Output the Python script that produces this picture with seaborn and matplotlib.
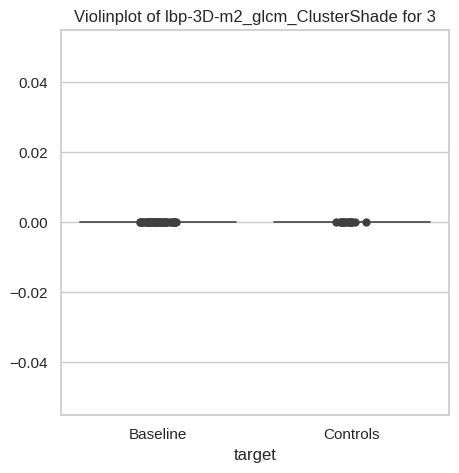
import numpy as np
import pandas as pd
import matplotlib
matplotlib.use('Agg')
import matplotlib.pyplot as plt
import seaborn as sns

sns.set_theme(style='whitegrid')
plt.rcParams['font.family'] = ['Liberation Sans', 'DejaVu Sans']

# values: every sample sits at 0.0
baseline_vals = [0.0, 0.0, 0.0, 0.0, 0.0, 0.0, 0.0, 0.0, 0.0, 0.0,
                 0.0, 0.0, 0.0, 0.0, 0.0, 0.0, 0.0, 0.0, 0.0, 0.0,
                 0.0, 0.0, 0.0, 0.0, 0.0, 0.0, 0.0, 0.0, 0.0, 0.0,
                 0.0, 0.0, 0.0, 0.0, 0.0, 0.0, 0.0, 0.0, 0.0, 0.0]
controls_vals = [0.0, 0.0, 0.0, 0.0, 0.0, 0.0, 0.0, 0.0, 0.0, 0.0,
                 0.0, 0.0, 0.0, 0.0, 0.0, 0.0]
groups = ['Baseline', 'Controls']
feature = 'lbp-3D-m2_glcm_ClusterShade'

df = pd.DataFrame({
    'target': [groups[0]] * len(baseline_vals) + [groups[1]] * len(controls_vals),
    feature: baseline_vals + controls_vals,
})

np.random.seed(3)
fig, ax = plt.subplots(figsize=(4.59, 4.73), dpi=100)
fig.subplots_adjust(left=0.133, right=0.978, top=0.937, bottom=0.123)
sns.violinplot(data=df, x='target', y=feature, ax=ax)
sns.stripplot(data=df, x='target', y=feature, color='.25', size=6,
              linewidth=0, ax=ax)
ax.set_ylabel('')
ax.set_title(f'Violinplot of {feature} for 3')
fig.savefig('out.png', dpi=100)
